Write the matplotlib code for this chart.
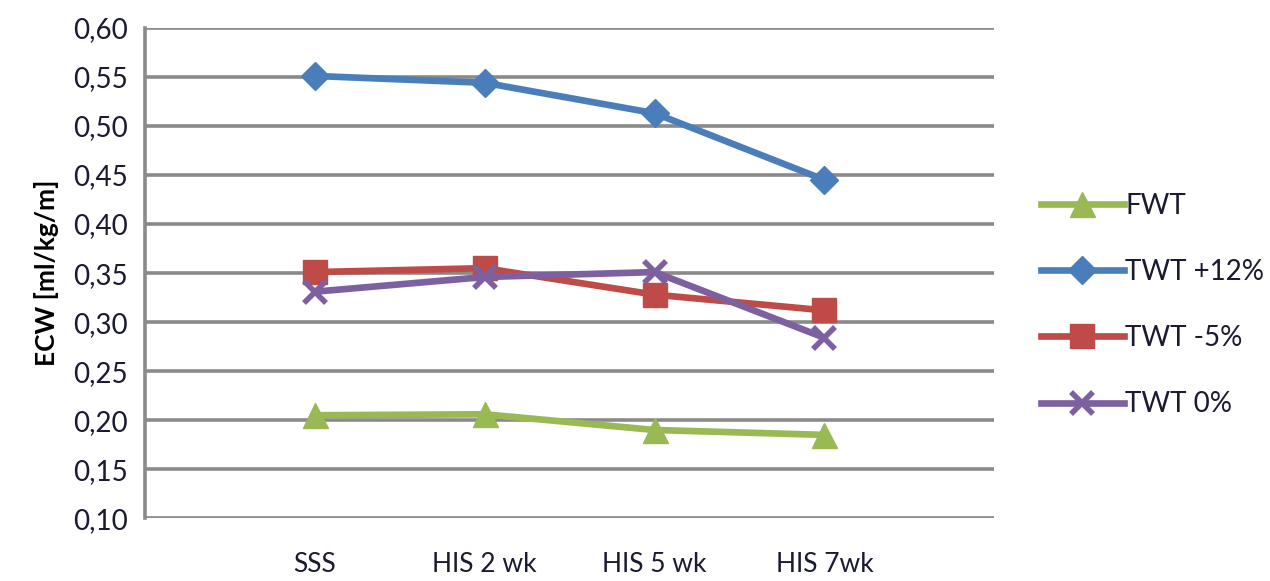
import matplotlib
matplotlib.use("Agg")
import matplotlib.pyplot as plt

plt.rcParams['font.family'] = ['Lato', 'DejaVu Sans']

# categories sit on slots 1..4 (slot 0 and 5 left empty, like the original sheet)
categories = ["SSS", "HIS 2 wk", "HIS 5 wk", "HIS 7wk"]
xpos = [1, 2, 3, 4]

fwt = [0.205, 0.206, 0.190, 0.185]
twt_p12 = [0.551, 0.544, 0.513, 0.445]
twt_m5 = [0.351, 0.355, 0.328, 0.312]
twt_0 = [0.331, 0.346, 0.351, 0.284]

yticks = [0.10, 0.15, 0.20, 0.25, 0.30, 0.35, 0.40, 0.45, 0.50, 0.55, 0.60]
ytick_labels = [f"{v:.2f}".replace(".", ",") for v in yticks]

txt = "#1A1A30"
grid = "#8A8A8A"

fig = plt.figure(figsize=(12.7, 5.81), dpi=100)
ax = fig.add_axes([0.114, 0.108, 0.669, 0.844])

for y in yticks:
    ax.axhline(y, color=grid, lw=2.6, zorder=1)

ax.plot(xpos, fwt, color="#98B954", lw=4.8, marker="^", ms=18, label="FWT", zorder=3)
ax.plot(xpos, twt_p12, color="#4A7EBB", lw=4.8, marker="D", ms=14, label="TWT +12%", zorder=3)
ax.plot(xpos, twt_m5, color="#BE4B48", lw=4.8, marker="s", ms=17, label="TWT -5%", zorder=3)
ax.plot(xpos, twt_0, color="#7D60A0", lw=4.8, marker="x", ms=16, mew=4, label="TWT 0%", zorder=4)

ax.set_xlim(0, 5)
ax.set_ylim(0.10, 0.60)
ax.set_yticks(yticks)
ax.set_yticklabels(ytick_labels)
ax.set_xticks(xpos)
ax.set_xticklabels(categories)
ax.tick_params(axis="both", length=0, labelsize=20, colors=txt)
ax.tick_params(axis="x", labelsize=19, pad=24)
ax.tick_params(axis="y", pad=12)

for s in ["top", "right", "bottom"]:
    ax.spines[s].set_visible(False)
ax.spines["left"].set_color(grid)
ax.spines["left"].set_linewidth(2.6)

ax.set_ylabel("ECW [ml/kg/m]", fontsize=19, fontweight="bold", color="black", labelpad=10)

ax.legend(loc="center left", bbox_to_anchor=(1.025, 0.435), frameon=False, fontsize=20,
          labelspacing=1.45, handlelength=3.0, handletextpad=0.05, labelcolor=txt)

fig.savefig("out.png", dpi=100)
